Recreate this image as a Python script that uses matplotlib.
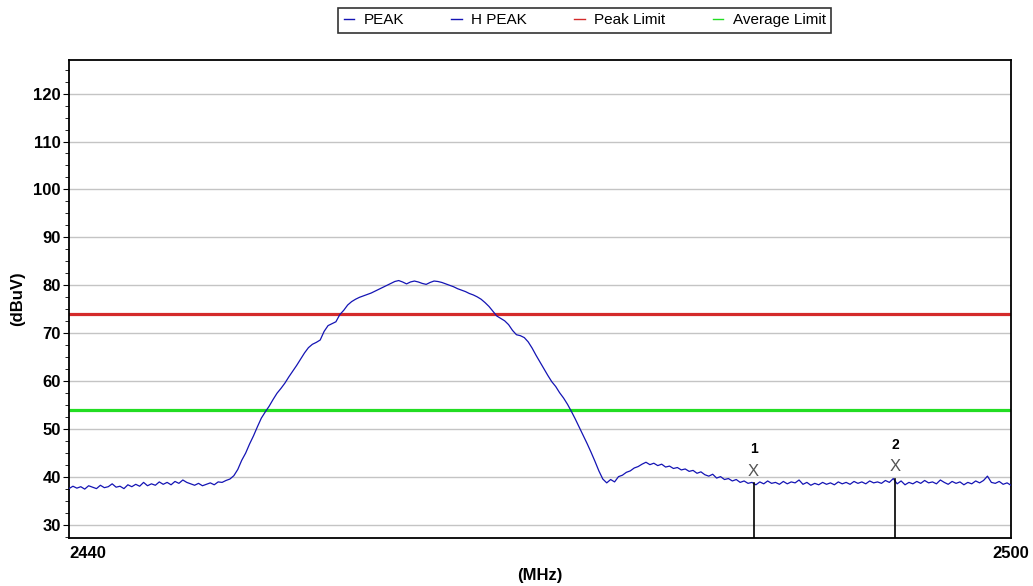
import numpy as np
import matplotlib.pyplot as plt
from matplotlib.ticker import MultipleLocator

plt.rcParams['font.family'] = ['Liberation Sans', 'DejaVu Sans']

# spectrum sweep, 2440-2500 MHz, 0.25 MHz steps (dBuV)
peak_levels = [
    37.6, 38.1, 37.7, 38.0, 37.5, 38.2, 37.9, 37.6, 38.3, 37.8,
    38.0, 38.6, 37.9, 38.1, 37.6, 38.4, 38.0, 38.5, 38.1, 38.9,
    38.2, 38.6, 38.3, 39.0, 38.5, 38.9, 38.4, 39.1, 38.7, 39.4,
    38.9, 38.6, 38.3, 38.7, 38.2, 38.5, 38.8, 38.4, 39.0, 38.9,
    39.3, 39.6, 40.3, 41.6, 43.5, 45.0, 46.9, 48.6, 50.5, 52.3,
    53.6, 54.8, 56.2, 57.5, 58.5, 59.6, 60.9, 62.1, 63.3, 64.6,
    65.9, 67.0, 67.7, 68.1, 68.6, 70.4, 71.6, 72.0, 72.4, 73.9,
    74.8, 75.9, 76.6, 77.1, 77.5, 77.8, 78.1, 78.4, 78.8, 79.2,
    79.6, 80.0, 80.4, 80.8, 81.0, 80.7, 80.3, 80.7, 80.9, 80.7,
    80.4, 80.2, 80.6, 80.9, 80.8, 80.6, 80.3, 80.0, 79.7, 79.3,
    79.0, 78.7, 78.3, 78.0, 77.6, 77.1, 76.4, 75.6, 74.6, 73.6,
    73.1, 72.6, 71.8, 70.6, 69.7, 69.5, 69.1, 68.2, 66.9, 65.4,
    64.0, 62.6, 61.2, 59.9, 58.9, 57.6, 56.5, 55.2, 53.7, 52.1,
    50.4, 48.7, 47.0, 45.2, 43.3, 41.3, 39.6, 38.8, 39.5, 39.0,
    40.1, 40.4, 41.0, 41.3, 41.9, 42.2, 42.7, 43.1, 42.6, 42.9,
    42.4, 42.7, 42.1, 42.3, 41.8, 42.0, 41.5, 41.7, 41.2, 41.4,
    40.8, 41.1, 40.5, 40.2, 40.6, 39.8, 40.1, 39.5, 39.7, 39.2,
    39.5, 38.9, 39.2, 38.7, 38.9, 38.4, 39.0, 38.6, 39.2, 38.7,
    38.9, 38.5, 39.1, 38.6, 39.0, 38.8, 39.4, 38.5, 38.9, 38.3,
    38.7, 38.4, 38.9, 38.5, 38.8, 38.4, 39.0, 38.6, 38.9, 38.5,
    39.1, 38.7, 39.0, 38.6, 39.2, 38.8, 39.0, 38.7, 39.3, 38.9,
    39.7, 38.6, 39.2, 38.4, 38.9, 38.6, 39.1, 38.7, 39.3, 38.8,
    39.0, 38.6, 39.4, 38.9, 38.5, 39.1, 38.7, 39.0, 38.4, 38.9,
    38.6, 39.2, 38.8, 39.3, 40.2, 38.9, 38.7, 39.1, 38.5, 38.8,
    38.3,
]
freq_start, freq_stop = 2440, 2500

peak_limit = 74.0
average_limit = 54.0

marker_ids = ['1', '2']
marker_freqs = [2483.6, 2492.6]
marker_levels = [38.8, 39.7]

freqs = np.linspace(freq_start, freq_stop, len(peak_levels))

fig = plt.figure(figsize=(10.33, 5.86), dpi=100)
ax = fig.add_axes([0.0668, 0.0819, 0.9119, 0.8157])

ax.axhline(peak_limit, color='#d42a2a', lw=2.3, zorder=2)
ax.axhline(average_limit, color='#22dd22', lw=2.3, zorder=2)
ax.plot(freqs, peak_levels, color='#1414b4', lw=0.9, zorder=3)

# markers: vertical stem, "X" and number
for mid, mf, ml in zip(marker_ids, marker_freqs, marker_levels):
    ax.plot([mf, mf], [27.3, ml], color='black', lw=1.2, zorder=4)
    ax.annotate('X', (mf, ml), xytext=(0, 3), textcoords='offset points',
                ha='center', va='bottom', fontsize=12, color='#555555')
    ax.annotate(mid, (mf, ml), xytext=(0, 19), textcoords='offset points',
                ha='center', va='bottom', fontsize=10, fontweight='bold')

ax.set_xlim(freq_start, freq_stop)
ax.set_ylim(27.3, 127)
ax.set_yticks(np.arange(30, 121, 10))
ax.yaxis.set_minor_locator(MultipleLocator(2.5))
ax.set_xticks([freq_start, freq_stop])
ax.set_xticklabels([str(freq_start), str(freq_stop)], fontsize=12, fontweight='bold')
ax.get_xticklabels()[0].set_ha('left')
ax.tick_params(axis='x', length=0, pad=6)
ax.tick_params(axis='y', which='major', length=4, labelsize=12, pad=2)
ax.tick_params(axis='y', which='minor', length=3)
for lbl in ax.get_yticklabels():
    lbl.set_fontweight('bold')

ax.grid(axis='y', color='#c4c4c4', lw=1.0)
ax.set_axisbelow(True)
for sp in ax.spines.values():
    sp.set_linewidth(1.3)

ax.set_xlabel('(MHz)', fontsize=12, fontweight='bold', labelpad=5)
ax.set_ylabel('(dBuV)', fontsize=12, fontweight='bold', labelpad=6)

# legend strip above the plot
handles = [
    plt.Line2D([], [], color='#1414b4', lw=1),
    plt.Line2D([], [], color='#1414b4', lw=1),
    plt.Line2D([], [], color='#d42a2a', lw=1),
    plt.Line2D([], [], color='#22dd22', lw=1),
]
leg = fig.legend(handles, ['PEAK', 'H PEAK', 'Peak Limit', 'Average Limit'],
                 loc='upper center', bbox_to_anchor=(0.566, 0.987), ncol=4,
                 fontsize=11, frameon=True, fancybox=False, edgecolor='black',
                 handlelength=0.7, handletextpad=0.6, columnspacing=3.1,
                 borderpad=0.38, borderaxespad=0)
leg.get_frame().set_linewidth(1.2)

fig.savefig('out.png', dpi=100)
